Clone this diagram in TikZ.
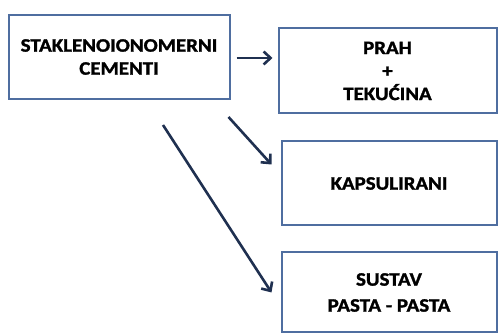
\documentclass[tikz,border=0pt]{standalone}
\usepackage{fontspec}
\setmainfont{Carlito}[BoldFont={Carlito Bold},BoldFeatures={FakeBold=1.5},FakeStretch=1.1]
\usetikzlibrary{arrows.meta}
\definecolor{boxblue}{RGB}{79,110,160}
\definecolor{arrownavy}{RGB}{31,48,80}
\begin{document}
\begin{tikzpicture}[x=1pt,y=-1pt,
  box/.style={draw=boxblue,line width=2pt,align=center,inner sep=0pt,
    font=\bfseries\fontsize{19}{23}\selectfont},
  arr/.style={draw=arrownavy,line width=2.6pt,
    -{Straight Barb[length=7pt,width=13pt,line width=2.6pt]}}]
        \useasboundingbox (0,0) rectangle (499,336);
        \node [box,minimum width=221pt,minimum height=84pt] (cem) at (119,57) {STAKLENOIONOMERNI\\CEMENTI};
        \node [box,minimum width=218pt,minimum height=85pt] (prah) at (387.5,71) {PRAH\\+\\TEKUĆINA};
        \node [box,minimum width=215pt,minimum height=84pt] (kaps) at (389,183.5) {KAPSULIRANI};
        \node [box,minimum width=215pt,minimum height=80pt,font=\bfseries\fontsize{19}{26}\selectfont] (pasta) at (389,292.5) {SUSTAV\\PASTA - PASTA};
        \draw [arr] ([yshift=-1pt]cem.east) ++(6pt,0) -- ([yshift=-1pt,xshift=-5pt]cem.east -| prah.west);
        \draw [arr] ([xshift=-2pt,yshift=-17pt]cem.south east) -- ([xshift=-9pt,yshift=-24pt]kaps.north west);
        \draw [arr] ([xshift=44pt,yshift=-25pt]cem.south) -- ([xshift=-9pt]pasta.west);
    \end{tikzpicture}
\end{document}
